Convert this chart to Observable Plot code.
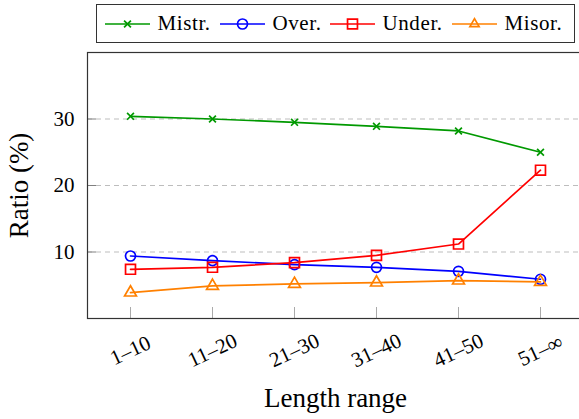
<!DOCTYPE html>
<html>
<head>
<meta charset="utf-8">
<script src="https://cdn.jsdelivr.net/npm/d3@7"></script>
<script src="https://cdn.jsdelivr.net/npm/@observablehq/plot@0.6"></script>
<style>
  body { margin: 0; background: #fff; }
  #wrap { position: relative; width: 579px; height: 419px; overflow: hidden; font-family: "Liberation Serif", "Times New Roman", serif; }
  #legend { position: absolute; left: 96px; top: 4px; width: 477px; height: 37px; border: 1px solid #333; background: #fff; }
  #legend svg { display: block; }
</style>
</head>
<body>
<div id="wrap">
  <div id="chart"></div>
  <div id="legend"></div>
</div>
<script>
// Length ranges on the x axis
const categories = ["1–10", "11–20", "21–30", "31–40", "41–50", "51–∞"];

// Ratio (%) per length range, one array per error type
const mistr = [30.4, 30.0, 29.5, 28.9, 28.2, 25.0];
const over  = [9.4, 8.7, 8.1, 7.7, 7.1, 5.9];
const under = [7.4, 7.7, 8.4, 9.5, 11.2, 22.3];
const misor = [3.9, 4.9, 5.2, 5.4, 5.7, 5.5];

const seriesNames = ["Mistr.", "Over.", "Under.", "Misor."];
const yTicks = [10, 20, 30];

const serif = "'Liberation Serif', 'Times New Roman', serif";

// Styling for each series: colour, marker symbol and marker radius
const styles = [
  {name: "Mistr.", values: mistr, color: "#009900", symbol: "times",    r: 3.2},
  {name: "Over.",  values: over,  color: "#0000ff", symbol: "circle",   r: 5.0},
  {name: "Under.", values: under, color: "#ff0000", symbol: "square",   r: 5.6},
  {name: "Misor.", values: misor, color: "#ff8000", symbol: "triangle", r: 4.4}
];

const rows = styles.flatMap(s => s.values.map((v, i) => ({series: s.name, range: categories[i], value: v})));

const seriesMarks = styles.flatMap(s => {
  const data = rows.filter(d => d.series === s.name);
  return [
    Plot.line(data, {x: "range", y: "value", stroke: s.color, strokeWidth: 1.7}),
    Plot.dot(data, {x: "range", y: "value", stroke: s.color, fill: "none", symbol: s.symbol, r: s.r, strokeWidth: 1.7})
  ];
});

const chart = Plot.plot({
  width: 579,
  height: 419,
  marginTop: 52,
  marginLeft: 87,
  marginRight: -4,
  marginBottom: 101,
  style: {fontFamily: serif, fontSize: "21px", background: "#fff", color: "#000"},
  x: {type: "point", domain: categories, padding: 0.5},
  y: {domain: [0, 40]},
  marks: [
    Plot.ruleY(yTicks, {stroke: "#bdbdbd", strokeDasharray: "5,4", strokeWidth: 1}),
    Plot.axisY(yTicks, {tickSize: -9, stroke: "#808080", fill: "none", label: null}),
    Plot.axisY(yTicks, {tickSize: 0, tickPadding: 13, fill: "#000", label: null, fontSize: 21, letterSpacing: 1}),
    Plot.axisX(categories, {tickSize: -11, stroke: "#aaaaaa", fill: "none", label: null}),
    Plot.text(categories, {x: d => d, frameAnchor: "bottom", dy: 32, rotate: -25, textAnchor: "middle", lineAnchor: "middle", fontSize: 21, letterSpacing: 0.5}),
    Plot.text(["Length range"], {frameAnchor: "bottom", dy: 80, textAnchor: "middle", lineAnchor: "middle", fontSize: 27, letterSpacing: 1}),
    Plot.text(["Ratio (%)"], {frameAnchor: "left", dx: -68, rotate: -90, textAnchor: "middle", lineAnchor: "middle", fontSize: 27, letterSpacing: 0.6}),
    ...seriesMarks,
    Plot.frame({stroke: "#333", strokeWidth: 1.2})
  ]
});
document.getElementById("chart").append(chart);

// Legend: line swatch with marker, then the series name
const symbolTypes = {times: d3.symbolTimes, circle: d3.symbolCircle, square: d3.symbolSquare, triangle: d3.symbolTriangle2};
const itemLeft = [8, 123, 233, 355];
const legend = d3.select("#legend").append("svg").attr("width", 477).attr("height", 37);
styles.forEach((s, i) => {
  const g = legend.append("g").attr("transform", `translate(${itemLeft[i]},0)`);
  g.append("line").attr("x1", 0).attr("x2", 45).attr("y1", 19).attr("y2", 19)
    .attr("stroke", s.color).attr("stroke-width", 1.7);
  g.append("path").attr("transform", "translate(22.5,19)")
    .attr("d", d3.symbol(symbolTypes[s.symbol], Math.PI * s.r * s.r)())
    .attr("fill", "none").attr("stroke", s.color).attr("stroke-width", 1.7);
  g.append("text").attr("x", 52.5).attr("y", 24.5)
    .attr("font-family", serif).attr("font-size", 21)
    .attr("letter-spacing", 0.6).attr("fill", "#000").text(seriesNames[i]);
});
</script>
</body>
</html>
